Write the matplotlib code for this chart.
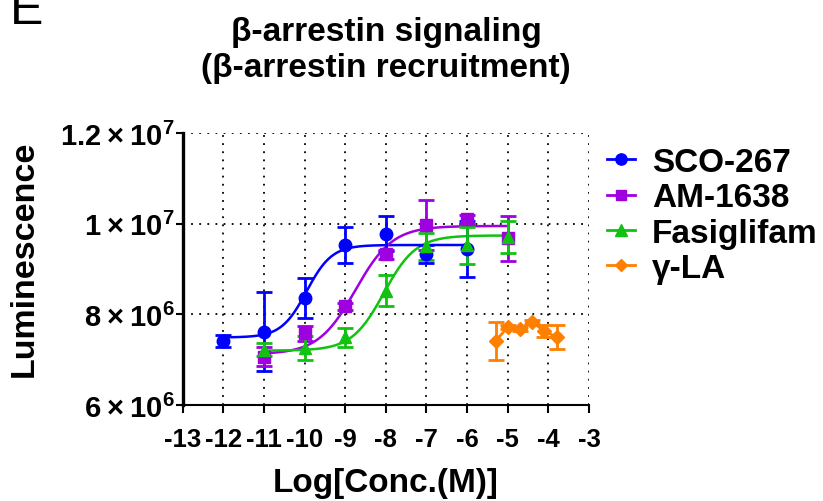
import numpy as np
import matplotlib.pyplot as plt

plt.rcParams['font.family'] = ['Liberation Sans', 'DejaVu Sans']
plt.rcParams['font.weight'] = 'bold'
plt.rcParams['mathtext.fontset'] = 'custom'
plt.rcParams['mathtext.rm'] = 'Liberation Sans'
plt.rcParams['mathtext.bf'] = 'Liberation Sans:bold'

# log concentration (M) and mean / SEM luminescence
x_sco = [-12, -11, -10, -9, -8, -7, -6]
y_sco = [7.41e6, 7.62e6, 8.36e6, 9.53e6, 9.78e6, 9.33e6, 9.44e6]
e_sco = [0.13e6, 0.88e6, 0.45e6, 0.40e6, 0.39e6, 0.20e6, 0.62e6]

x_am = [-11, -10, -9, -8, -7, -6, -5]
y_am = [7.07e6, 7.58e6, 8.18e6, 9.33e6, 9.97e6, 10.1e6, 9.68e6]
e_am = [0.22e6, 0.16e6, 0.08e6, 0.10e6, 0.56e6, 0.10e6, 0.50e6]

x_fas = [-11, -10, -9, -8, -7, -6, -5]
y_fas = [7.22e6, 7.26e6, 7.49e6, 8.52e6, 9.50e6, 9.52e6, 9.70e6]
e_fas = [0.14e6, 0.26e6, 0.22e6, 0.34e6, 0.30e6, 0.40e6, 0.35e6]

x_gla = [-5.3, -5.0, -4.7, -4.4, -4.1, -3.8]
y_gla = [7.41e6, 7.72e6, 7.68e6, 7.83e6, 7.63e6, 7.50e6]
e_gla = [0.42e6, 0.04e6, 0.04e6, 0.05e6, 0.14e6, 0.27e6]

# four-parameter logistic fits (bottom, top, logEC50, hill)
fit_sco = (7.49e6, 9.53e6, -9.95, 1.4)
fit_am = (7.12e6, 9.95e6, -8.75, 0.95)
fit_fas = (7.20e6, 9.74e6, -8.05, 1.1)


def hill(x, bottom, top, logec50, n):
    return bottom + (top - bottom) / (1 + 10 ** ((logec50 - x) * n))


fig = plt.figure(figsize=(8.23, 5.02), dpi=100)
ax = fig.add_axes([0.222, 0.1912, 0.4937, 0.5418])

series = [
    ('SCO-267', x_sco, y_sco, e_sco, fit_sco, '#0000FF', 'o', 9),
    ('AM-1638', x_am, y_am, e_am, fit_am, '#9F00DF', 's', 8.5),
    ('Fasiglifam', x_fas, y_fas, e_fas, fit_fas, '#11C211', '^', 9),
    ('γ-LA', x_gla, y_gla, e_gla, None, '#FF8000', 'D', 7),
]

handles = []
for name, xs, ys, es, fit, col, mk, ms in series:
    if fit is not None:
        xx = np.linspace(min(xs), max(xs), 300)
        ax.plot(xx, hill(xx, *fit), color=col, lw=1.8, zorder=3)
        ls = 'none'
    else:
        ls = '-'
    ax.errorbar(xs, ys, yerr=es, fmt=mk, ls=ls, color=col, ms=ms, lw=2,
                elinewidth=2, capsize=5.5, capthick=2, zorder=4)
    h, = ax.plot([], [], color=col, marker=mk, ms=ms * 0.9, lw=2)
    handles.append(h)

ax.set_xlim(-13, -3)
ax.set_ylim(6e6, 1.2e7)
ax.set_xticks(range(-13, -2))
ax.set_xticklabels([str(v) for v in range(-13, -2)])
yt = [6e6, 8e6, 1e7, 1.2e7]
ylab = [r'$\mathbf{6}\times\mathbf{10^{6}}$', r'$\mathbf{8}\times\mathbf{10^{6}}$',
        r'$\mathbf{1}\times\mathbf{10^{7}}$', r'$\mathbf{1.2}\times\mathbf{10^{7}}$']
ax.set_yticks(yt)
ax.set_yticklabels(ylab)
ax.tick_params(axis='y', labelsize=21, width=1.5, length=5, pad=1)
ax.tick_params(axis='x', labelsize=18.5, width=1.5, length=6, pad=10)

ax.grid(True, color='black', linestyle=(0, (1, 3.5)), linewidth=1.3)
ax.set_axisbelow(True)
for s in ['top', 'right']:
    ax.spines[s].set_visible(False)
ax.spines['left'].set_linewidth(2.4)
ax.spines['bottom'].set_linewidth(1.5)

ax.set_ylabel('Luminescence', fontsize=24.5, fontweight='bold', labelpad=14)
ax.yaxis.label.set_y(0.54)
ax.set_xlabel('Log[Conc.(M)]', fontsize=24, fontweight='bold', labelpad=11)

fig.text(0.469, 1 - 33 / 502, 'β-arrestin signaling', fontsize=24,
         fontweight='bold', ha='center', va='center')
fig.text(0.469, 1 - 68 / 502, '(β-arrestin recruitment)', fontsize=24,
         fontweight='bold', ha='center', va='center')
fig.text(0.012, 1 - 24 / 502, 'E', fontsize=36, fontweight='normal',
         ha='left', va='baseline')

fig.legend(handles, [s[0] for s in series], loc='upper left',
           bbox_to_anchor=(0.7375, 0.705), frameon=False, fontsize=24,
           handlelength=0.85, handletextpad=0.5, labelspacing=0.13,
           borderpad=0, borderaxespad=0)

fig.savefig('out.png', dpi=100)
